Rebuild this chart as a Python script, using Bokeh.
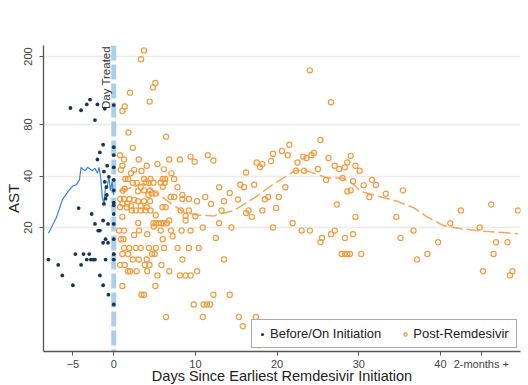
from bokeh.plotting import figure
from bokeh.models import Range1d, FixedTicker, Span, Label, NumeralTickFormatter
from bokeh.embed import file_html
from bokeh.resources import INLINE

# Before/On Initiation (days, AST)
before_x = [-5.3, -4.0, -3.3, -2.9, -2.0, -2.3, -1.1, 0.0,
            -1.3, -1.7, -2.0, 0.0, 0.0, -0.8, -1.2, 0.0, 0.0,
            -0.6, -1.1, -0.9, -0.85, -1.0, -1.2, 0.0, 0.0,
            -4.3, -2.7, -1.3, -2.3, -0.7, 0.0, 0.0, 0.0,
            -1.9, -1.7, -1.0, 0.0, -1.3, -0.7,
            -4.7, -3.7, -3.0, 0.0,
            -8.0, -3.3, -2.8, -2.5, -2.3, -1.0, 0.0, 0.0,
            -6.8, -4.0, -6.3, -1.7, -5.0, -1.3, -0.65, 0.0]
before_y = [100, 97, 105, 112, 105, 85, 99, 104,
            61, 55, 50, 59, 53, 46, 42.5, 45, 38,
            39.6, 37, 34.5, 31, 29.5, 27.5, 33, 28,
            26, 24, 22, 21, 21, 21, 27, 24,
            19.2, 19.2, 17.1, 17.1, 16.3, 16.3,
            14, 14, 14, 14,
            13, 13, 13, 13, 13, 13, 13, 14,
            12.1, 12.1, 10.5, 10.5, 9.2, 9.2, 8.1, 7.1]

# Post-Remdesivir (days, AST)
post_x = [3.7, 3.35, 2.0, 5.1, 4.8, 4.4, 1.35, 1.06, 1.8, 6.4,
          2.33, 0.77, 3.06, 1.26, 1.06, 0.86, 4.04, 5.35, 6.8, 8.1, 9.4, 9.9, 6.15, 7.06, 7.4, 2.5, 3.4, 2.1,
          1.43, 1.75, 2.33, 2.8, 3.7, 3.96, 4.5, 4.3, 4.86, 6.0, 6.3, 5.75, 6.24, 6.0, 3.3, 2.97, 3.7, 4.44,
          5.14, 4.24, 4.65, 7.8, 8.4, 6.97, 7.4, 8.4, 9.2, 10.2, 1.1, 1.35,
          0.77, 1.26, 1.92, 2.5, 1.06, 1.67, 2.97, 3.7, 4.44, 0.77, 1.6, 2.2, 2.7, 3.3, 3.9, 2.1, 3.3, 4.04,
          4.5, 5.96, 6.36, 5.14, 8.2, 9.2, 8.8, 1.06, 3.0, 4.85, 5.17, 5.5, 5.8, 6.1, 6.5, 4.9, 6.8, 8.8,
          0.65, 1.26, 3.1, 5.75, 7.0, 8.3, 9.4, 0.86, 1.19, 2.5, 4.1, 6.0, 7.2,
          1.26, 1.9, 2.7, 3.3, 4.3, 5.14, 6.16, 7.8, 9.2,
          1.06, 1.75, 4.7, 5.0, 2.33, 3.06, 4.04, 8.4, 0.77, 1.35, 3.8, 4.37, 5.84, 1.75, 2.0, 2.8, 4.1,
          6.8, 10.2, 5.35, 8.1, 8.8, 9.4, 1.06, 5.1, 3.4, 3.7, 9.8, 6.4,
          11.5, 12.2, 21.5, 20.6, 19.5, 21.3, 19.25, 17.5, 18.2, 17.9, 16.2, 23.2, 22.5, 12.9, 15.5, 15.95,
          17.2, 21.0, 14.2, 11.2, 13.5, 15.2, 18.9, 18.5, 20.2, 11.9, 13.2, 16.5, 16.2, 16.9, 18.2, 19.9,
          10.0, 10.9, 12.9, 14.4, 19.5, 21.9, 23.0, 12.5, 10.4,
          13.5, 12.2, 14.2, 11.0, 11.4, 11.8, 10.9, 15.3, 17.4, 15.8, 17.8,
          26.6, 25.3, 23.6, 24.2, 24.5, 25.0, 26.3, 27.05, 27.6, 28.3, 28.6, 29.0, 29.6, 30.1, 28.0, 29.3,
          26.0, 31.6, 32.1, 30.6, 29.0, 28.6, 31.3, 33.3, 35.4, 22.3, 23.3, 27.3, 29.6, 34.6, 24.0, 27.05,
          26.6, 25.5, 25.3, 28.3, 29.3, 27.9, 28.3, 28.6, 28.9, 30.3, 35.1, 36.7, 37.1, 38.4, 39.7, 41.2,
          42.5, 44.8, 46.2, 49.5, 46.8, 46.5, 48.2, 45.2, 48.8, 48.5, 24.0]
post_y = [217, 193, 123, 140, 132, 109, 102, 96, 72, 68,
          58.5, 53, 50, 50, 46, 43.5, 46, 47, 50, 50, 52, 48.5, 43.8, 41.5, 38.5, 43.5, 42.8, 41.5,
          38.5, 38.5, 36.5, 36.5, 38.5, 36.8, 38.5, 36.4, 36.6, 38.5, 38.5, 36.6, 36.6, 34.6, 34.4, 32.6, 33, 33,
          31.6, 31, 31.6, 34.4, 31, 30.2, 30.2, 29.4, 29.4, 28.5, 32.9, 33.7,
          29.4, 29.4, 29.4, 29, 27.6, 27.6, 28.5, 28.5, 28.5, 26.3, 26.3, 25.2, 25.2, 25.2, 25.2, 26.7, 26.7, 26.3,
          25.2, 26.3, 26.3, 23.6, 25.2, 25.2, 23.4, 23.1, 21.3, 21.2, 21.2, 21.2, 21.2, 21.2, 21.2, 20.3, 22, 22,
          19.2, 19.2, 19.2, 19.2, 19.2, 19.2, 19.2, 17.1, 17.1, 18.1, 18.3, 17.1, 17.8,
          15.2, 15.2, 15.2, 15.2, 15.2, 15.2, 15.2, 15.2, 15.2,
          14, 14, 14, 14, 13, 13, 13, 13, 12.1, 12.1, 12.1, 12.1, 12.1, 11.1, 11.1, 11.1, 11.1,
          11.1, 11.1, 10.5, 10.5, 10.5, 10.5, 9.1, 9.1, 8.1, 8.1, 7.1, 6.0,
          53, 49.3, 61, 56, 54, 53, 49, 48, 47, 45, 42, 52, 48, 34.4, 35.6, 34.4,
          35.6, 34.4, 31.9, 30.2, 28.5, 29.2, 30.2, 29.3, 30.2, 27.5, 25.2, 25.2, 24.3, 23.1, 25.2, 26,
          23.3, 20, 21.2, 20, 20, 21.2, 19.2, 17.4, 15.2,
          13, 8.1, 8.1, 7.1, 7.1, 7.1, 6.0, 6.0, 6.0, 5.3, 4.1,
          108, 65, 51, 53, 54.6, 44, 51, 46, 44, 45, 48, 52.5, 46, 43, 39, 37.3,
          38, 38, 35.5, 35.3, 33, 32.5, 30.2, 31.5, 33, 43, 43, 27.3, 23.1, 23.1, 19.2, 19.2,
          18.3, 17.4, 16.4, 17.4, 18.3, 14, 14, 14, 14, 14, 17.4, 19.2, 13, 14, 16.4, 21.2,
          25.2, 20, 27.3, 25.2, 16.4, 14, 16.4, 11.1, 11.1, 10.5, 166]

# Mean AST before initiation
pre_mean_x = [-8.0, -7.0, -6.3, -5.5, -5.0, -4.6, -4.2, -4.0, -3.8, -3.5, -3.2, -2.9, -2.6,
              -2.3, -2.0, -1.8, -1.6, -1.4, -1.2, -1.0, -0.85, -0.6, -0.4, -0.2, 0.0]
pre_mean_y = [18.5, 23, 29, 33, 35, 35.5, 38, 45, 44, 43, 45, 44, 43,
              44.5, 41.5, 45, 39.5, 30, 27.5, 35, 34, 39.5, 33, 37, 31]

# Smoothed AST after initiation
post_fit_x = [0.7, 2.5, 3.6, 5.35, 7.0, 8.6, 10.2, 12.3, 14.7, 17.2, 19.6, 22.2, 23.3, 26.2, 28.0,
              29.3, 30.2, 32.7, 34.7, 36.8, 38.4, 40.4, 42.5, 44.9, 47.0, 49.5]
post_fit_y = [32.6, 34.6, 36.0, 31.6, 27.6, 24.6, 23.7, 23.4, 25.2, 29.8, 36.0, 43.0, 43.5, 39.0, 39.0,
              36.0, 32.6, 30.2, 28.5, 26.0, 23.0, 20.5, 19.7, 19.1, 18.8, 18.4]

x_ticks = [-5, 0, 10, 20, 30, 40, 45]
y_ticks = [20, 40, 80, 200]

FONT = "Liberation Sans"
NAVY = "#1c3557"
ORANGE = "#f39a3c"

p = figure(frame_width=477, frame_height=306, x_range=Range1d(-8.6, 49.8), y_range=Range1d(3.77, 232),
           y_axis_type="log", output_backend="svg", toolbar_location=None,
           min_border_left=43, min_border_right=8, min_border_top=45, min_border_bottom=34)
p.outline_line_color = None
p.background_fill_color = "white"
p.xgrid.visible = False
p.ygrid.grid_line_color = "#ebebeb"
p.ygrid.grid_line_width = 1.3

vline = Span(location=0, dimension="height", line_color="#a9d0ea", line_width=5,
             line_dash="15 4", level="underlay")
p.add_layout(vline)

p.line(pre_mean_x, pre_mean_y, line_color="#3a87d8", line_width=1.2)
p.line(post_fit_x, post_fit_y, line_color="#f5a75a", line_width=1.5, line_dash="12 4")

r1 = p.scatter(before_x, before_y, marker="circle", size=3.8, fill_color=NAVY, line_color=None,
               legend_label="Before/On Initiation")
r2 = p.scatter(post_x, post_y, marker="circle", size=5.2, fill_color=None, line_color=ORANGE,
               line_width=1.2, legend_label="Post-Remdesivir")

p.add_layout(Label(x=0, y=230, text="Day Treated", angle=1.5708, text_align="right",
                   text_baseline="bottom", x_offset=-2, text_font=FONT, text_font_size="11.5px",
                   text_color="#333333"))

for ax in (p.xaxis[0], p.yaxis[0]):
    ax.axis_line_color = "#555555"
    ax.axis_line_width = 1.3
    ax.major_tick_line_color = "#555555"
    ax.major_tick_out = 4
    ax.major_tick_in = 0
    ax.minor_tick_line_color = None
    ax.major_label_text_font = FONT
    ax.major_label_text_font_size = "11px"
    ax.major_label_text_color = "#444444"
    ax.major_label_standoff = 2
    ax.axis_label_text_font = FONT
    ax.axis_label_text_font_style = "normal"
    ax.axis_label_text_font_size = "14.5px"
    ax.axis_label_text_color = "#222222"
    ax.axis_label_standoff = -5

p.xaxis.ticker = FixedTicker(ticks=x_ticks)
p.xaxis.major_label_overrides = {45: "2-months +"}
p.xaxis.axis_label = "Days Since Earliest Remdesivir Initiation"
p.yaxis.ticker = FixedTicker(ticks=y_ticks)
p.yaxis.formatter = NumeralTickFormatter(format="0")
p.yaxis.major_label_orientation = "parallel"
p.yaxis.major_label_standoff = 7
p.yaxis.axis_label = "AST"
p.yaxis.axis_label_text_font_size = "15px"
p.yaxis.axis_label_standoff = 0

lg = p.legend[0]
lg.orientation = "horizontal"
lg.location = (208, 3)
lg.label_text_font = FONT
lg.label_text_font_size = "13px"
lg.label_text_color = "#222222"
lg.border_line_color = "#555555"
lg.border_line_width = 1
lg.padding = 6
lg.spacing = 20
lg.glyph_width = 8
lg.glyph_height = 14
lg.label_standoff = 4
lg.label_width = 97
lg.margin = 0
lg.background_fill_alpha = 1

open("out.html", "w").write(file_html(p, INLINE))
